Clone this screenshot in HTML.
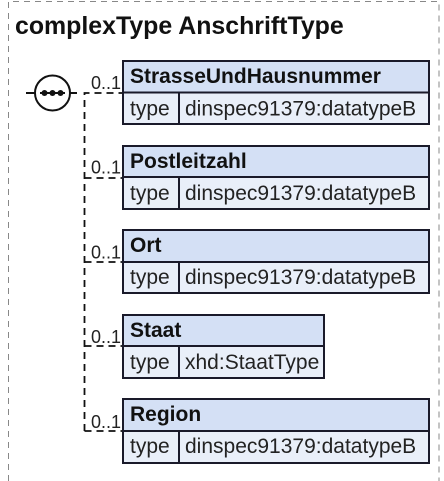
<!DOCTYPE html>
<html lang="de">
<head>
<meta charset="utf-8">
<title>complexType AnschriftType</title>
<style>
html,body{margin:0;padding:0;background:#fff;width:444px;height:481px;overflow:hidden}
svg{display:block}
text{font-family:"Liberation Sans",Arial,sans-serif;fill:#111}
.h{font-weight:bold;font-size:21px}
.t{font-size:21px;fill:#222}
.o{font-size:18px;fill:#222}
.hd{fill:#d4e0f5}
.bd{fill:#e9eff9}
.ln{stroke:#1a1a2a;stroke-width:2;fill:none}
.dash{stroke:#111;stroke-width:1.8;stroke-dasharray:7 5;fill:none}
</style>
</head>
<body>
<svg xmlns="http://www.w3.org/2000/svg" width="444" height="481" viewBox="0 0 444 481">
<rect width="444" height="481" fill="#fff"/>
<path d="M8.5 481V1.5H439V481" fill="none" stroke="#888" stroke-width="1" stroke-dasharray="6 5"/>
<text x="15" y="34" font-size="24.9" font-weight="bold" style="fill:#111">complexType AnschriftType</text>

<g>
<path d="M26 93H35M70 93H77" stroke="#111" stroke-width="2" fill="none"/>
<circle cx="52.5" cy="93" r="17.5" fill="#fff" stroke="#111" stroke-width="2"/>
<path d="M40 93H65" stroke="#111" stroke-width="2"/>
<circle cx="44.5" cy="93" r="3" fill="#111"/>
<circle cx="52.5" cy="93" r="3" fill="#111"/>
<circle cx="60.5" cy="93" r="3" fill="#111"/>
</g>

<path class="dash" d="M84.5 431V93H122"/>
<path class="dash" d="M84.5 178H122"/>
<path class="dash" d="M84.5 262H122"/>
<path class="dash" d="M84.5 346H122"/>
<path class="dash" d="M84.5 431H122"/>

<text class="o" x="91" y="89">0..1</text>
<text class="o" x="91" y="173.5">0..1</text>
<text class="o" x="91" y="258.5">0..1</text>
<text class="o" x="91" y="343">0..1</text>
<text class="o" x="91" y="428">0..1</text>

<g>
<rect class="hd" x="123" y="61" width="306" height="31"/>
<rect class="bd" x="123" y="92" width="306" height="32"/>
<rect class="ln" x="123" y="61" width="306" height="63"/>
<path class="ln" d="M123 92.5H429M179 92.5V124"/>
<text class="h" x="130" y="83">StrasseUndHausnummer</text>
<text class="t" x="130" y="115.5">type</text>
<text class="t" x="185" y="115.5">dinspec91379:datatypeB</text>
</g>

<g>
<rect class="hd" x="123" y="146" width="306" height="31"/>
<rect class="bd" x="123" y="177" width="306" height="32"/>
<rect class="ln" x="123" y="146" width="306" height="63"/>
<path class="ln" d="M123 177H429M179 177V209"/>
<text class="h" x="130" y="168">Postleitzahl</text>
<text class="t" x="130" y="200">type</text>
<text class="t" x="185" y="200">dinspec91379:datatypeB</text>
</g>

<g>
<rect class="hd" x="123" y="230" width="306" height="32"/>
<rect class="bd" x="123" y="262" width="306" height="31"/>
<rect class="ln" x="123" y="230" width="306" height="63"/>
<path class="ln" d="M123 262H429M179 262V293"/>
<text class="h" x="130" y="252">Ort</text>
<text class="t" x="130" y="284">type</text>
<text class="t" x="185" y="284">dinspec91379:datatypeB</text>
</g>

<g>
<rect class="hd" x="123" y="315" width="201" height="31"/>
<rect class="bd" x="123" y="346" width="201" height="32"/>
<rect class="ln" x="123" y="315" width="201" height="63"/>
<path class="ln" d="M123 346H324M179 346V378"/>
<text class="h" x="130" y="337">Staat</text>
<text class="t" x="130" y="369">type</text>
<text class="t" x="185" y="369">xhd:StaatType</text>
</g>

<g>
<rect class="hd" x="123" y="399" width="306" height="32"/>
<rect class="bd" x="123" y="431" width="306" height="32"/>
<rect class="ln" x="123" y="399" width="306" height="64"/>
<path class="ln" d="M123 431H429M179 431V463"/>
<text class="h" x="130" y="421">Region</text>
<text class="t" x="130" y="453">type</text>
<text class="t" x="185" y="453">dinspec91379:datatypeB</text>
</g>
</svg>
</body>
</html>
